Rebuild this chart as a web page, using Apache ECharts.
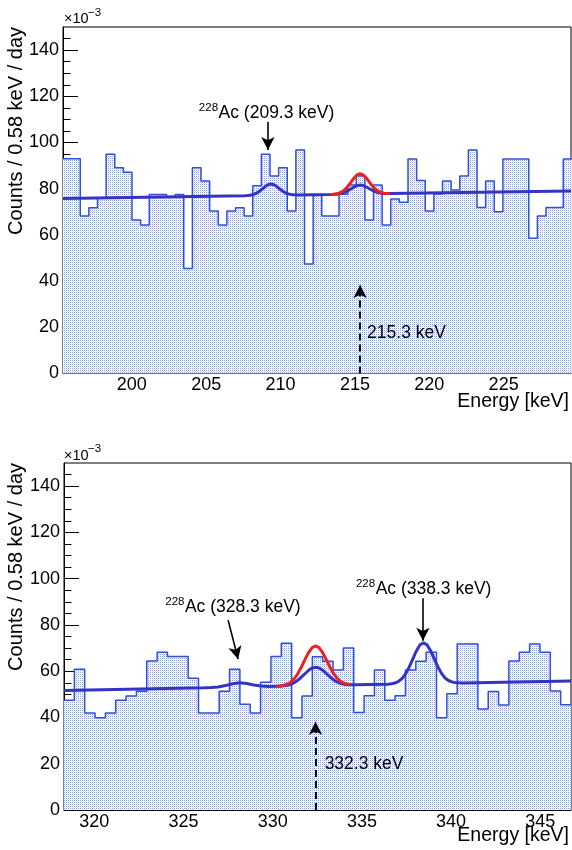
<!DOCTYPE html>
<html><head><meta charset="utf-8">
<script src="https://cdn.jsdelivr.net/npm/echarts@6/dist/echarts.min.js"></script>
<style>html,body{margin:0;padding:0;background:#fff}#c{width:572px;height:850px}</style>
</head><body><div id="c"></div>
<script>
// ---------------- data ----------------
const binWidth = 0.58;
const topBinStart = 195.37;
const topCounts = [93,93,68.2,71.8,76.1,94.9,89.1,87.1,66.5,64.3,
  77.5,77.5,76.3,77.5,45.5,89.1,83.3,70.3,64.3,70.3,
  71.8,68.2,81.3,94.9,85.5,89.1,70.3,96.8,47.4,77.3,
  68.2,68.2,77.6,81.6,85.5,66.5,81.6,64.3,75.5,74.1,
  92.9,83.5,70.3,77.7,83.3,79.4,85.5,96.8,71.9,83.3,
  70.0,92.9,92.9,92.9,58.5,68.2,71.9,71.9,92.9];
const botBinStart = 318.3;
const botCounts = [47.4,60.8,41.9,39.9,41.9,47.4,49.3,51.3,64.4,68.2,
  66.4,66.4,56.9,41.9,41.9,51.3,60.8,45.7,41.9,55.2,
  66.4,72.1,39.9,49.3,66.3,64.3,60.5,70.0,42.1,49.4,
  60.5,47.4,49.4,60.5,64.3,68.2,39.9,50.2,71.8,71.8,
  43.7,51.2,45.4,64.4,68.2,71.8,68.2,51.4,45.5];

const topXRange = [195.37, 229.53];
const botXRange = [318.3, 346.72];
const yRange = [0, 150];
const topMajorTicks = [200,205,210,215,220,225];
const botMajorTicks = [320,325,330,335,340,345];
const yMajorTicks = [0,20,40,60,80,100,120,140];

// fit curves
const topFitBlue = [[195.37,75.80],[207.55,76.96],[207.75,77.03],[207.95,77.17],[208.15,77.46],[208.35,77.96],
  [208.55,78.74],[208.75,79.75],[208.95,80.83],[209.15,81.68],[209.35,82.01],[209.55,81.72],[209.75,80.91],
  [209.95,79.87],[210.15,78.89],[210.35,78.15],[210.55,77.68],[210.75,77.43],[210.95,77.33],[211.15,77.30],
  [213.35,77.50],[213.55,77.54],[213.75,77.63],[213.95,77.80],[214.15,78.09],[214.35,78.56],[214.55,79.20],
  [214.75,79.98],[214.95,80.75],[215.15,81.34],[215.35,81.57],[215.55,81.38],[215.75,80.83],[215.95,80.10],
  [216.15,79.35],[216.35,78.75],[216.55,78.31],[216.75,78.06],[216.95,77.93],[217.15,77.88],[217.35,77.88],
  [229.53,79.00]];
const topFitRed = [[213.35,77.52],[213.55,77.60],[213.75,77.78],[213.95,78.12],[214.15,78.75],[214.35,79.78],
  [214.55,81.22],[214.75,82.95],[214.95,84.68],[215.15,85.97],[215.35,86.47],[215.55,86.01],[215.75,84.76],
  [215.95,83.07],[216.15,81.37],[216.35,79.97],[216.55,78.97],[216.75,78.38],[216.95,78.08],[217.15,77.94],
  [217.35,77.90]];
const botFitBlue = [[318.3,51.70],[326.15,52.84],[326.55,52.95],[326.95,53.21],[327.35,53.78],[327.75,54.58],
  [328.15,55.02],[328.55,54.70],[328.95,54.02],[329.35,53.56],[329.75,53.41],[330.2,53.45],[330.4,53.52],
  [330.6,53.66],[330.8,53.89],[331.0,54.32],[331.2,55.03],[331.4,56.05],[331.6,57.38],[331.8,58.87],
  [332.0,60.30],[332.2,61.34],[332.4,61.74],[332.6,61.40],[332.8,60.42],[333.0,59.05],[333.2,57.61],
  [333.4,56.33],[333.6,55.37],[333.8,54.72],[334.0,54.35],[334.2,54.18],[334.4,54.10],[334.6,54.09],
  [336.45,54.39],[336.65,54.54],[336.85,54.89],[337.05,55.58],[337.25,56.83],[337.45,58.90],[337.65,61.76],
  [337.85,65.26],[338.05,68.73],[338.25,71.32],[338.45,72.31],[338.65,71.38],[338.85,68.85],[339.05,65.43],
  [339.25,61.99],[339.45,59.18],[339.65,57.17],[339.85,55.98],[340.05,55.35],[340.25,55.06],[340.45,54.97],
  [340.65,54.94],[346.72,55.80]];
const botFitRed = [[330.2,53.48],[330.4,53.60],[330.6,53.86],[330.8,54.34],[331.0,55.23],[331.2,56.70],
  [331.4,58.86],[331.6,61.70],[331.8,64.88],[332.0,67.90],[332.2,70.12],[332.4,70.94],[332.6,70.18],
  [332.8,68.02],[333.0,65.06],[333.2,61.93],[333.4,59.14],[333.6,57.04],[333.8,55.63],[334.0,54.80],
  [334.2,54.38],[334.4,54.18]];

// annotations (data coordinates)
const topPeakLabel = {iso:'228', text:'Ac (209.3 keV)', at:[205.83,112.8], arrow:[[209.15,109.0],[209.15,96.8]]};
const topLine = {text:'215.3 keV', at:[215.82,17.5], arrow:[[215.35,0],[215.35,38.3]]};
const botPeakLabels = [
  {iso:'228', text:'Ac (328.3 keV)', at:[325.08,87.6], arrow:[[327.5,82.1],[328.06,65.2]]},
  {iso:'228', text:'Ac (338.3 keV)', at:[335.77,95.5], arrow:[[338.42,91.5],[338.42,73.2]]}
];
const botLine = {text:'332.3 keV', at:[332.91,19.7], arrow:[[332.4,0],[332.4,38.2]]};

// ---------------- helpers ----------------
function histPoints(start, counts){
  const pts = counts.map((v,i)=>[+(start+i*binWidth).toFixed(4), v]);
  pts.push([+(start+counts.length*binWidth).toFixed(4), counts[counts.length-1]]);
  return pts;
}
function minorList(lo, hi, step){
  const out=[]; for(let v=Math.ceil(lo/step)*step; v<=hi+1e-9; v+=step) out.push(+v.toFixed(4)); return out;
}
const pc = document.createElement('canvas'); pc.width=2; pc.height=2;
const pctx = pc.getContext('2d');
pctx.fillStyle='#ffffff'; pctx.fillRect(0,0,2,2);
pctx.fillStyle='#8aa2e6'; pctx.fillRect(0,0,1,1);
pctx.fillStyle='#dfe7f9'; pctx.fillRect(1,1,1,1);
const fillPattern = {image: pc, repeat:'repeat'};

const FONT = 'Liberation Sans';
const histColor = '#3050d8';
const blueFit = '#3434c4';
const redFit = '#ee2020';

function xAxes(grid, range, majors){
  return [
    {gridIndex:grid, type:'value', min:range[0], max:range[1], position:'bottom',
     axisLine:{onZero:false, lineStyle:{color:'#000', width:1}},
     axisTick:{inside:true, length:10, customValues:majors, lineStyle:{color:'#000'}},
     axisLabel:{customValues:majors, fontFamily:FONT, fontSize:18, color:'#000', margin:3},
     splitLine:{show:false}},
    {gridIndex:grid, type:'value', min:range[0], max:range[1], position:'bottom',
     axisLine:{show:false},
     axisTick:{inside:true, length:5, customValues:minorList(range[0],range[1],1), lineStyle:{color:'#000'}},
     axisLabel:{show:false}, splitLine:{show:false}}
  ];
}
function yAxes(grid){
  return [
    {gridIndex:grid, type:'value', min:yRange[0], max:yRange[1], position:'left',
     axisLine:{onZero:false, lineStyle:{color:'#000', width:1}},
     axisTick:{inside:true, length:15, customValues:yMajorTicks, lineStyle:{color:'#000'}},
     axisLabel:{customValues:yMajorTicks, fontFamily:FONT, fontSize:18, color:'#000', margin:4},
     splitLine:{show:false}},
    {gridIndex:grid, type:'value', min:yRange[0], max:yRange[1], position:'left',
     axisLine:{show:false},
     axisTick:{inside:true, length:7.5, customValues:minorList(0,145,5), lineStyle:{color:'#000'}},
     axisLabel:{show:false}, splitLine:{show:false}}
  ];
}
function arrowLines(list){
  return list.map(a=>[
    Object.assign({coord:a.arrow[0]}, a.dashed ? {lineStyle:{type:[7,4], width:2, color:'#000'}} : {}),
    {coord:a.arrow[1]}
  ]);
}
function seriesFor(grid, xi, yi, start, counts, blue, red, arrows){
  return [
    {type:'line', xAxisIndex:xi, yAxisIndex:yi, step:'end', symbol:'none', data:histPoints(start, counts),
     lineStyle:{color:histColor, width:1.5}, areaStyle:{color:fillPattern, opacity:1}, z:2},
    {type:'line', xAxisIndex:xi, yAxisIndex:yi, symbol:'none', data:blue,
     lineStyle:{color:blueFit, width:3}, z:3},
    {type:'line', xAxisIndex:xi, yAxisIndex:yi, symbol:'none', data:red,
     lineStyle:{color:redFit, width:3}, z:4,
     markLine:{silent:true, animation:false, symbol:['none','arrow'], symbolSize:[10,13],
       label:{show:false}, lineStyle:{color:'#000', width:1.6, type:'solid'},
       emphasis:{disabled:true}, data:arrowLines(arrows)}}
  ];
}

const chart = echarts.init(document.getElementById('c'), null, {renderer:'canvas'});
const option = {
  animation:false,
  backgroundColor:'#fff',
  grid:[
    {left:63, top:27, width:508, height:346.5, show:true, borderColor:'#000', borderWidth:1, backgroundColor:'rgba(0,0,0,0)'},
    {left:64, top:463, width:507, height:347, show:true, borderColor:'#000', borderWidth:1, backgroundColor:'rgba(0,0,0,0)'}
  ],
  xAxis:[...xAxes(0, topXRange, topMajorTicks), ...xAxes(1, botXRange, botMajorTicks)],
  yAxis:[...yAxes(0), ...yAxes(1)],
  series:[
    ...seriesFor(0, 0, 0, topBinStart, topCounts, topFitBlue, topFitRed,
      [topPeakLabel, Object.assign({dashed:true}, topLine)]),
    ...seriesFor(1, 2, 2, botBinStart, botCounts, botFitBlue, botFitRed,
      [...botPeakLabels, Object.assign({dashed:true}, botLine)])
  ]
};
chart.setOption(option);

// ---------------- text annotations ----------------
const g = [];
function txt(x, y, text, size, align, extra){
  g.push(Object.assign({type:'text', x:x, y:y, z:100, silent:true,
    style:{text:text, font:size+'px "'+FONT+'"', fill:'#000', align:align||'left', verticalAlign:'middle'}}, extra||{}));
}
function peakLabel(axis, lab){
  const p = chart.convertToPixel({xAxisIndex:axis, yAxisIndex:axis}, lab.at);
  txt(p[0], p[1], lab.text, 17.5, 'left');
  txt(p[0]-0.5, p[1]-5.5, lab.iso, 11.5, 'right');
}
peakLabel(0, topPeakLabel);
botPeakLabels.forEach(l=>peakLabel(2, l));
let p = chart.convertToPixel({xAxisIndex:0, yAxisIndex:0}, topLine.at); txt(p[0], p[1], topLine.text, 17.5, 'left');
p = chart.convertToPixel({xAxisIndex:2, yAxisIndex:2}, botLine.at); txt(p[0], p[1], botLine.text, 17.5, 'left');

// axis titles and exponent
txt(16.5, 27, 'Counts / 0.58 keV / day', 20, 'right', {rotation:Math.PI/2});
txt(16.5, 463, 'Counts / 0.58 keV / day', 20, 'right', {rotation:Math.PI/2});
txt(569, 401.5, 'Energy [keV]', 19.5, 'right');
txt(569, 836, 'Energy [keV]', 19.5, 'right');
txt(64, 19, '\u00d710', 14.5, 'left');
txt(88, 12.5, '\u22123', 11.5, 'left');
txt(64, 455.7, '\u00d710', 14.5, 'left');
txt(88, 448.5, '\u22123', 11.5, 'left');

chart.setOption({graphic:g});
</script></body></html>
